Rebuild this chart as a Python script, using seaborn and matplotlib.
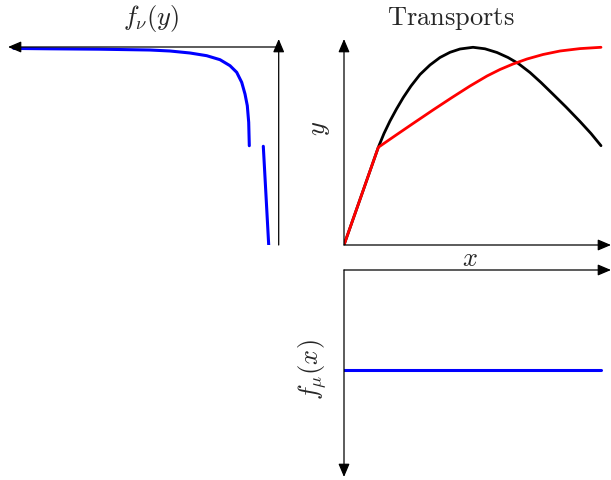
import numpy as np
import pandas as pd
import matplotlib
matplotlib.use("Agg")
import matplotlib.pyplot as plt
import seaborn as sns

sns.set_style("white")
plt.rcParams["mathtext.fontset"] = "cm"
plt.rcParams["font.family"] = ["DejaVu Serif"]

# ---- data ----
# transport maps (x in [0,1] -> y in [0,1])
black_x = [0.0, 0.1335, 0.1556, 0.1790, 0.2043, 0.2307, 0.2607, 0.2957, 0.3346, 0.3735, 0.4125,
           0.4514, 0.5019, 0.5486, 0.5953, 0.6381, 0.6782, 0.7237, 0.7665, 0.8144, 0.8638,
           0.9183, 0.9611, 1.0]
black_y = [0.0, 0.4934, 0.5631, 0.6263, 0.6869, 0.7449, 0.8030, 0.8611, 0.9091, 0.9470, 0.9732,
           0.9899, 0.9985, 0.9909, 0.9722, 0.9470, 0.9167, 0.8712, 0.8207, 0.7601, 0.6970,
           0.6237, 0.5631, 0.5015]
red_x = [0.0, 0.1335, 0.1984, 0.2685, 0.3463, 0.4202, 0.4903, 0.5564, 0.6070, 0.6576, 0.7121,
         0.7743, 0.8405, 0.9183, 1.0]
red_y = [0.0, 0.4934, 0.5515, 0.6136, 0.6818, 0.7449, 0.8030, 0.8535, 0.8864, 0.9141, 0.9394,
         0.9621, 0.9798, 0.9919, 0.9985]

# density of nu (y on vertical axis), two pieces
nu_low_y = [0.0, 0.25, 0.4985]
nu_low_d = [0.100, 0.127, 0.154]
nu_up_y = [0.5015, 0.6197, 0.7035, 0.7626, 0.8217, 0.8722, 0.9056, 0.9359, 0.9561, 0.9697,
           0.9798, 0.9848, 0.9889, 0.9909, 0.9924, 0.9930]
nu_up_d = [0.294, 0.300, 0.314, 0.337, 0.370, 0.420, 0.487, 0.587, 0.720, 0.887,
           1.087, 1.287, 1.787, 2.287, 2.587, 2.650]

# density of mu (uniform)
mu_x = [0.0, 1.0]
mu_d = [1.0, 1.0]

W, H = 611, 481
fig = plt.figure(figsize=(W / 100, H / 100), dpi=100)


def box(l, r, t, b):
    return [l / W, 1 - b / H, (r - l) / W, (b - t) / H]


def arrow(ax, p0, p1):
    ax.annotate("", xy=p1, xytext=p0,
                arrowprops=dict(arrowstyle="-|>,head_length=0.8,head_width=0.34",
                                lw=0.9, color="black", shrinkA=0, shrinkB=0,
                                mutation_scale=10),
                annotation_clip=False)


X0, XR = 344, 601
# ---- top right: transports ----
ax = fig.add_axes(box(X0, 611, 40, 246))
xmax = (611 - X0) / (XR - X0)
ymax = (246 - 40) / 198
ax.set_xlim(0, xmax)
ax.set_ylim(0, ymax)
ax.axis("off")
arrow(ax, (0, 0), (xmax, 0))
arrow(ax, (0, 0), (0, ymax))
sns.lineplot(x=black_x, y=black_y, ax=ax, color="black", lw=2.0, sort=False, estimator=None)
sns.lineplot(x=red_x, y=red_y, ax=ax, color="red", lw=2.0, sort=False, estimator=None)

# ---- top left: f_nu(y) ----
axl = fig.add_axes(box(8, 278.7, 40, 246))
dmax = (278.7 - 8) / 100
axl.set_xlim(dmax, 0)
axl.set_ylim(0, ymax)
axl.axis("off")
arrow(axl, (0, 1), (dmax, 1))
arrow(axl, (0, 0), (0, ymax))
sns.lineplot(x=nu_low_d, y=nu_low_y, ax=axl, color="blue", lw=2.2, sort=False, estimator=None)
sns.lineplot(x=nu_up_d, y=nu_up_y, ax=axl, color="blue", lw=2.2, sort=False, estimator=None)

# ---- bottom right: f_mu(x) ----
axb = fig.add_axes(box(X0, 611, 271, 478))
bmax = (478 - 271) / 100
axb.set_xlim(0, xmax)
axb.set_ylim(bmax, 0)
axb.axis("off")
arrow(axb, (0, 0), (xmax, 0))
arrow(axb, (0, 0), (0, bmax))
sns.lineplot(x=mu_x, y=mu_d, ax=axb, color="blue", lw=2.2, sort=False, estimator=None)

# ---- labels ----
def ftext(x, y, s, **kw):
    fig.text(x / W, 1 - y / H, s, ha="center", va="center", fontsize=19, **kw)

ftext(151, 18, r"$f_\nu(y)$")
ftext(451, 18, r"$\mathrm{Transports}$")
ftext(319, 128, r"$y$", rotation=90)
ftext(470, 259, r"$x$")
ftext(313, 370, r"$f_\mu(x)$", rotation=90)

fig.savefig("out.png", dpi=100)
